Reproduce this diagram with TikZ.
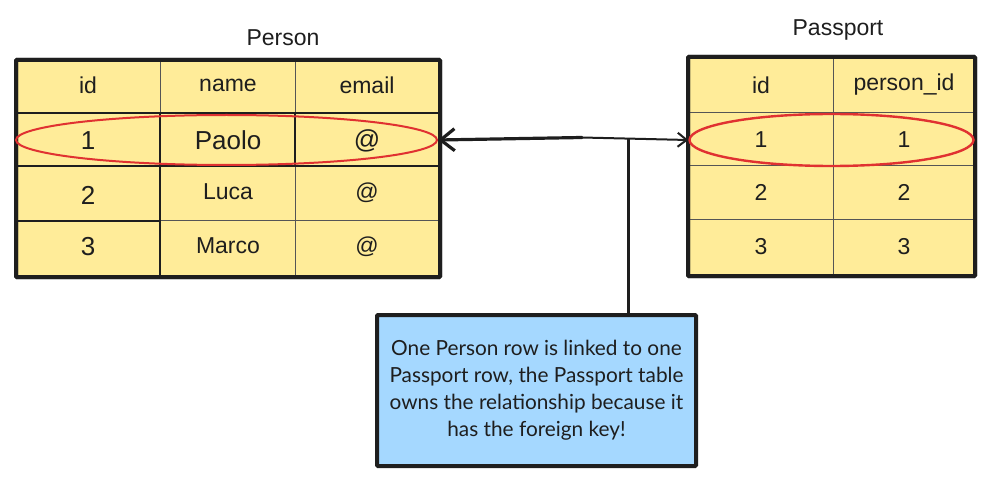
\documentclass[tikz,border=0pt]{standalone}
\usepackage{fontspec}
\setmainfont{Liberation Sans}
\newfontfamily\notefont{Lato}
\usetikzlibrary{arrows.meta,shapes.geometric}
\definecolor{ink}{HTML}{1E1E1E}
\definecolor{cellfill}{HTML}{FFEC99}
\definecolor{thingray}{HTML}{555555}
\definecolor{ringred}{HTML}{E03131}
\definecolor{notefill}{HTML}{A5D8FF}
\tikzset{
  tbl/.style={draw=ink, line width=4pt, fill=cellfill, inner sep=0pt, rounded corners=1pt},
  thinline/.style={draw=thingray, line width=1pt},
  thickline/.style={draw=ink, line width=2.2pt},
  celltext/.style={text=ink, font=\fontsize{23}{26}\selectfont, inner sep=0pt},
  bigtext/.style={text=ink, font=\fontsize{26}{30}\selectfont, inner sep=0pt},
  titletext/.style={text=ink, font=\fontsize{23}{26}\selectfont, inner sep=0pt},
  ring/.style={ellipse, draw=ringred, line width=2pt, inner sep=0pt},
  notebox/.style={draw=ink, line width=4pt, fill=notefill, inner sep=0pt, rounded corners=1pt},
}
\begin{document}
\begin{tikzpicture}[x=1pt,y=-1pt]
\useasboundingbox (0,0) rectangle (993,481);
% ---------------- Person table ----------------
\node[tbl, minimum width=424pt, minimum height=217pt] (person) at (228,168.5) {};
% thin grid
\draw[thinline] (160,60) -- (160,113);
\draw[thinline] (295,60) -- (295,277);
\draw[thinline] (160,221) -- (440,221);
% thick inner lines
\draw[thickline] (16,113) -- (440,113);
\draw[thickline] (16,166) -- (440,166);
\draw[thickline] (160,113) -- (160,277);
\draw[thickline] (295,113) -- (295,166);
\draw[thickline] (16,221) -- (160,221);
\draw[draw=ink, line width=4pt, rounded corners=1pt] (16,60) rectangle (440,277);
% texts
\node[titletext] (ptitle) at (283,38) {Person};
\node[celltext] (ph1) at (88,85) {id};
\node[celltext] (ph2) at (228,85) {name};
\node[celltext] (ph3) at (367,85) {email};
\node[bigtext] (pa1) at (88,141) {1};
\node[bigtext] (pa2) at (228,140) {Paolo};
\node[bigtext] (pa3) at (367,141) {@};
\node[bigtext] (pb1) at (88,195) {2};
\node[celltext] (pb2) at (228,192) {Luca};
\node[celltext] (pb3) at (367,193) {@};
\node[bigtext] (pc1) at (88,247) {3};
\node[celltext] (pc2) at (228,246) {Marco};
\node[celltext] (pc3) at (367,247) {@};
\node[ring, minimum width=421pt, minimum height=50pt] (pring) at (226.5,140) {};
% ---------------- Passport table ----------------
\node[tbl, minimum width=287pt, minimum height=219pt] (passport) at (831.5,166.5) {};
\draw[thinline] (833,57) -- (833,276);
\draw[thinline] (688,113) -- (975,113);
\draw[thinline] (688,166) -- (975,166);
\draw[thinline] (688,220) -- (975,220);
\draw[draw=ink, line width=4pt, rounded corners=1pt] (688,57) rectangle (975,276);
\node[titletext] (qtitle) at (838,30) {Passport};
\node[celltext] (qh1) at (761,85) {id};
\node[celltext] (qh2) at (904,85) {person\_id};
\node[celltext] (qa1) at (761,140) {1};
\node[celltext] (qa2) at (904,140) {1};
\node[celltext] (qb1) at (761,192) {2};
\node[celltext] (qb2) at (904,192) {2};
\node[celltext] (qc1) at (761,247) {3};
\node[celltext] (qc2) at (904,247) {3};
\node[ring, minimum width=284pt, minimum height=52pt, line width=2.4pt] (qring) at (831.5,140) {};
% ---------------- connector ----------------
\coordinate (bend) at (582,137.5);
\coordinate (tee) at (628,138.5);
\draw[ink, line width=3.2pt, line cap=round, -{Straight Barb[length=14pt,width=22pt,line width=3.2pt]}] (bend) -- (pring.east);
\draw[ink, line width=2pt, line cap=round, -{Straight Barb[length=9pt,width=14pt,line width=2pt]}] (bend) -- (qring.west);
% ---------------- note ----------------
\node[notebox, minimum width=319pt, minimum height=151pt, align=center, text=ink,
      font=\notefont\fontsize{20.8}{27}\selectfont] (note) at (536.5,390.5)
  {One Person row is linked to one\\Passport row, the Passport table\\owns the relationship because it\\has the foreign key!};
\draw[ink, line width=3pt] (tee) -- (tee |- note.north);
\end{tikzpicture}
\end{document}
